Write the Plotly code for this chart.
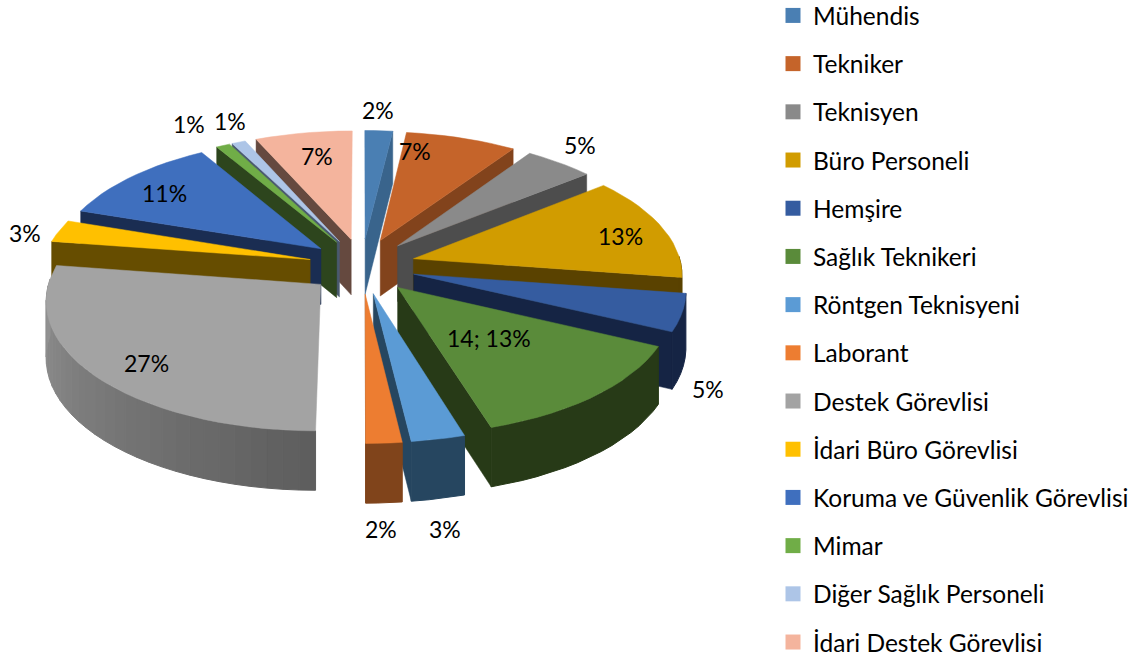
import math
import plotly.graph_objects as go

categories = ["Mühendis", "Tekniker", "Teknisyen", "Büro Personeli", "Hemşire", "Sağlık Teknikeri",
              "Röntgen Teknisyeni", "Laborant", "Destek Görevlisi", "İdari Büro Görevlisi",
              "Koruma ve Güvenlik Görevlisi", "Mimar", "Diğer Sağlık Personeli", "İdari Destek Görevlisi"]
values = [2, 8, 5, 14, 5, 14, 3, 2, 29, 3, 12, 1, 1, 7]
data_labels = ["2%", "7%", "5%", "13%", "5%", "14; 13%", "3%", "2%", "27%", "3%", "11%", "1%", "1%", "7%"]

top_colors = ["#4a7fb3", "#c5642a", "#8a8a8a", "#d19c00", "#355ca0", "#5a8b3a", "#5b9bd5",
              "#ed7d31", "#a3a3a3", "#ffc000", "#3f6fbe", "#70ad47", "#adc5e7", "#f4b49d"]
wall_colors = ["#39648c", "#82431c", "#4d4d4d", "#5a4200", "#152444", "#273a17", "#264660",
               "#80441b", "#5d5d5d", "#664d00", "#1a2d52", "#2d451d", "#4a5a70", "#65493f"]

# pixel anchors of the data labels
label_px = [(378, 110), (415, 151), (580, 145), (620, 236), (708, 389), (489, 338), (445, 529),
            (381, 529), (146, 363), (25, 233), (164, 193), (189, 124), (230, 121), (317, 156)]

FIG_W, FIG_H = 1138, 700
CX, CY = 362, 266
R, RY = 268, 126
PERSP = 0.11
EXPLODE_X, EXPLODE_Y = 0.2, 0.22
FONT = "Lato"
LABEL_SIZE = 23
LEGEND_SIZE = 24.5
LEGEND_MID_PX = 329


def project(mx, my):
    s = 1 / (1 + PERSP * my)
    return CX + R * mx * s, CY - RY * my * s


def depth(my):
    return 56 - 3 * my


def mix(c1, c2, t):
    a = [int(c1[i:i + 2], 16) for i in (1, 3, 5)]
    b = [int(c2[i:i + 2], 16) for i in (1, 3, 5)]
    return "#%02x%02x%02x" % tuple(round(p + (q - p) * t) for p, q in zip(a, b))


def poly(xs, ys, color, name, width=0.5):
    return go.Scatter(x=xs + xs[:1], y=ys + ys[:1], mode="lines", fill="toself", fillcolor=color,
                      line=dict(color=color, width=width), hoverinfo="skip", showlegend=False, name=name)


total = sum(values)
spans = []
acc = 0
for v in values:
    spans.append((acc / total * 2 * math.pi, (acc + v) / total * 2 * math.pi))
    acc += v

order = sorted(range(len(values)), key=lambda i: -math.cos(sum(spans[i]) / 2))
fig = go.Figure()


def add_wall(points, color, name, width=0.5):
    top = [project(*p) for p in points]
    low = [(project(*p)[0], project(*p)[1] + depth(p[1])) for p in points]
    ring = top + low[::-1]
    fig.add_trace(poly([p[0] for p in ring], [p[1] for p in ring], color, name, width))


for i in order:
    t1, t2 = spans[i]
    m = (t1 + t2) / 2
    ox, oy = EXPLODE_X * math.sin(m), EXPLODE_Y * math.cos(m)
    n = max(3, int((t2 - t1) / math.radians(3)))
    angles = [t1 + (t2 - t1) * k / n for k in range(n + 1)]
    arc = [(ox + math.sin(a), oy + math.cos(a)) for a in angles]

    if math.sin(t1) < 0:
        add_wall([(ox, oy), arc[0]], wall_colors[i], categories[i])
    if math.sin(t2) > 0:
        add_wall([(ox, oy), arc[-1]], wall_colors[i], categories[i])

    run, run_color = [], None
    for k in range(n):
        a = (angles[k] + angles[k + 1]) / 2
        if math.cos(a) >= 0.03:
            continue
        shade = max(0.0, min(1.0, (a - math.pi) / (math.pi / 2))) * 0.75
        color = mix(wall_colors[i], top_colors[i], shade)
        if color != run_color and run:
            add_wall(run, run_color, categories[i], 1)
            run = [run[-1]]
        if not run:
            run = [arc[k]]
        run.append(arc[k + 1])
        run_color = color
    if run:
        add_wall(run, run_color, categories[i], 1)

    pts = [project(ox, oy)] + [project(*p) for p in arc]
    fig.add_trace(poly([p[0] for p in pts], [p[1] for p in pts], top_colors[i], categories[i]))

for name, color in zip(categories, top_colors):
    fig.add_trace(go.Scatter(x=[None], y=[None], mode="markers", name=name, legendgroup=name,
                             marker=dict(symbol="square", size=15, color=color), hoverinfo="skip"))

annotations = [dict(x=px, y=py, xref="x", yref="y", showarrow=False, text=t,
                    font=dict(family=FONT, size=LABEL_SIZE, color="black"))
               for (px, py), t in zip(label_px, data_labels)]

fig.update_layout(
    width=FIG_W, height=FIG_H, margin=dict(l=0, r=0, t=0, b=0, autoexpand=False), autosize=False,
    paper_bgcolor="white", plot_bgcolor="white",
    xaxis=dict(range=[0, FIG_W], visible=False, fixedrange=True),
    yaxis=dict(range=[FIG_H, 0], visible=False, fixedrange=True),
    annotations=annotations,
    legend=dict(x=773 / FIG_W, xanchor="left", y=1 - LEGEND_MID_PX / FIG_H, yanchor="middle", tracegroupgap=13.35,
                font=dict(family=FONT, size=LEGEND_SIZE, color="black"), bgcolor="rgba(0,0,0,0)",
                itemclick=False, itemdoubleclick=False),
)
fig.write_html("out.html", config=dict(displayModeBar=False),
               post_script="document.body.style.margin='0';document.body.style.overflow='hidden';"
                           "document.documentElement.style.overflow='hidden';")
